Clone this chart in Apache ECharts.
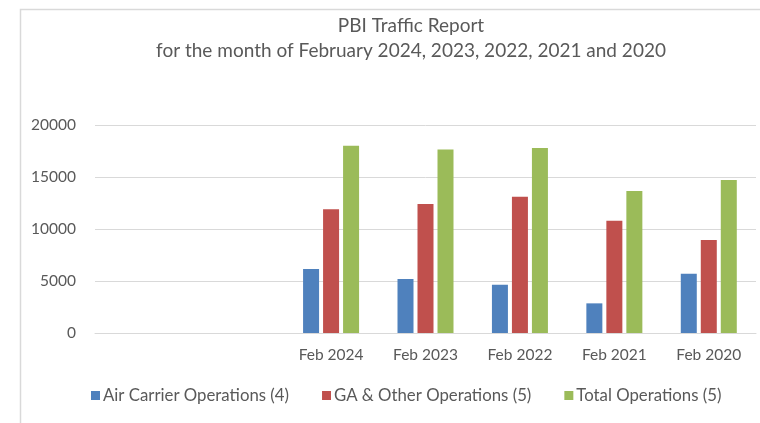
<!DOCTYPE html>
<html><head><meta charset="utf-8">
<script src="https://cdn.jsdelivr.net/npm/echarts@6/dist/echarts.min.js"></script>
<style>html,body{margin:0;padding:0;background:#fff;}#c{width:760px;height:423px;}</style>
</head><body><div id="c"></div>
<script>
const categories = ['', ' ', 'Feb 2024', 'Feb 2023', 'Feb 2022', 'Feb 2021', 'Feb 2020'];
const airCarrier = [null, null, 6150, 5190, 4640, 2850, 5700];
const gaOther = [null, null, 11900, 12400, 13100, 10800, 8940];
const totalOps = [null, null, 18000, 17650, 17800, 13650, 14700];
const yTicks = [0, 5000, 10000, 15000, 20000];
const seriesNames = ['Air Carrier Operations (4)', 'GA & Other Operations (5)', 'Total Operations (5)'];

const chart = echarts.init(document.getElementById('c'));
const font = 'Lato, "Open Sans", sans-serif';
const txt = '#595959';
chart.setOption({
  animation: false,
  textStyle: {fontFamily: font},
  graphic: [{type: 'rect', left: 18, top: 7, shape: {width: 900, height: 600}, style: {fill: 'none', stroke: '#d9d9d9', lineWidth: 1.5}, z: -1}],
  title: {
    text: 'PBI Traffic Report\nfor the month of February 2024, 2023, 2022, 2021 and 2020',
    left: 406, textAlign: 'center', top: 8,
    textStyle: {fontFamily: font, fontSize: 19, fontWeight: 'normal', color: txt, lineHeight: 25}
  },
  legend: {
    data: seriesNames, bottom: 14, left: 86, itemWidth: 9, itemHeight: 9, itemGap: 33,
    icon: 'rect',
    textStyle: {fontFamily: font, fontSize: 16.8, color: txt, padding: [0,0,0,-2]}
  },
  grid: {left: 95, right: 4, top: 125, bottom: 90, containLabel: false},
  xAxis: {
    type: 'category', data: categories,
    axisLine: {lineStyle: {color: '#d9d9d9'}}, axisTick: {show: false},
    axisLabel: {color: txt, fontSize: 15.5, fontFamily: font, margin: 14, interval: 0}
  },
  yAxis: {
    type: 'value', min: yTicks[0], max: yTicks[yTicks.length - 1], interval: 5000,
    axisLine: {show: false}, axisTick: {show: false},
    splitLine: {lineStyle: {color: '#d9d9d9', width: 1}},
    axisLabel: {color: txt, fontSize: 15.5, fontFamily: font, margin: 19, formatter: v => String(v)}
  },
  series: [
    {name: seriesNames[0], type: 'bar', data: airCarrier, itemStyle: {color: '#4f81bd'}, barWidth: 16, barGap: '25%'},
    {name: seriesNames[1], type: 'bar', data: gaOther, itemStyle: {color: '#c0504d'}, barWidth: 16, barGap: '25%'},
    {name: seriesNames[2], type: 'bar', data: totalOps, itemStyle: {color: '#9bbb59'}, barWidth: 16, barGap: '25%'}
  ]
});
</script></body></html>
